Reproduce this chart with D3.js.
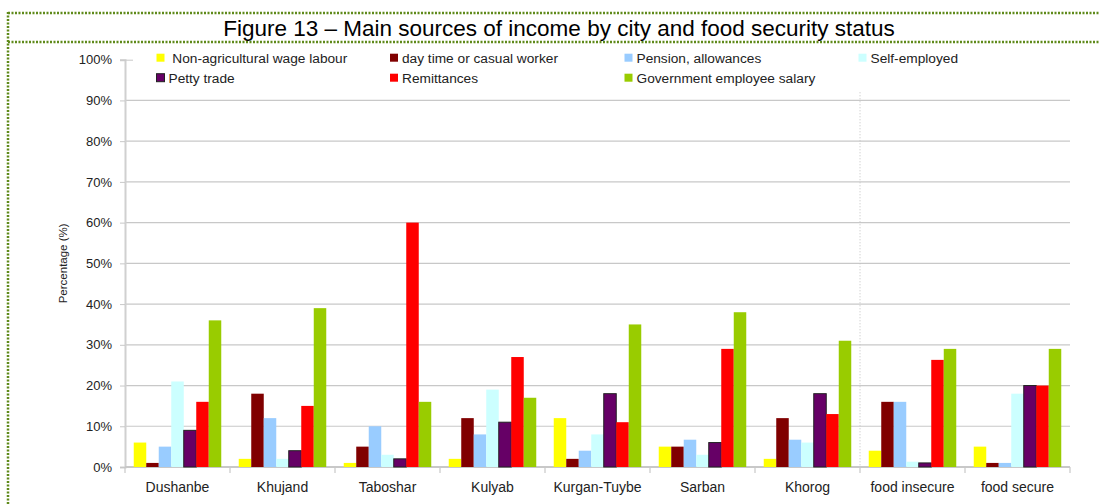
<!DOCTYPE html>
<html>
<head>
<meta charset="utf-8">
<script src="https://cdn.jsdelivr.net/npm/d3@7"></script>
<style>
  html, body { margin: 0; padding: 0; background: #fff; }
  svg { display: block; font-family: Arial, "Liberation Sans", sans-serif; }
  text { white-space: pre; }
</style>
</head>
<body>
<svg id="chart" width="1099" height="504"></svg>
<script>
// Groups along the x axis (cities, then food security status)
const categories = ["Dushanbe", "Khujand", "Taboshar", "Kulyab", "Kurgan-Tuybe", "Sarban", "Khorog", "food insecure", "food secure"];

// Income sources, in drawing order within each group
const seriesNames = [
  " Non-agricultural wage labour",
  "day time or casual worker",
  "Pension, allowances",
  "Self-employed",
  "Petty trade",
  "Remittances",
  "Government employee salary"
];
const seriesColors = ["#ffff00", "#800000", "#99ccff", "#ccffff", "#660066", "#ff0000", "#99cc00"];

// Percent of households per source, one value per category
const nonAgriculturalWage = [6, 2, 1, 2, 12, 5, 2, 4, 5];
const casualWorker        = [1, 18, 5, 12, 2, 5, 12, 16, 1];
const pensionAllowances   = [5, 12, 10, 8, 4, 6.7, 6.7, 16, 1];
const selfEmployed        = [21, 2, 3, 19, 8, 3, 6, 1.3, 18];
const pettyTrade          = [9, 4, 2, 11, 18, 6, 18, 1, 20];
const remittances         = [16, 15, 60, 27, 11, 29, 13, 26.3, 20];
const governmentSalary    = [36, 39, 16, 17, 35, 38, 31, 29, 29];

const yTicks = [0, 10, 20, 30, 40, 50, 60, 70, 80, 90, 100];

const seriesValues = [nonAgriculturalWage, casualWorker, pensionAllowances, selfEmployed, pettyTrade, remittances, governmentSalary];

const svg = d3.select("#chart");

// Frame: dotted olive rules around the title and down the left side
const frame = svg.append("g").attr("stroke", "#5f8a1a").attr("stroke-width", 2.5).attr("stroke-dasharray", "2,1.5");
frame.append("line").attr("x1", 8).attr("x2", 1099).attr("y1", 13).attr("y2", 13);
frame.append("line").attr("x1", 8).attr("x2", 1099).attr("y1", 42).attr("y2", 42);
frame.append("line").attr("x1", 8).attr("x2", 8).attr("y1", 12).attr("y2", 504);

svg.append("text")
  .attr("x", 559).attr("y", 35.5)
  .attr("text-anchor", "middle")
  .attr("font-size", 22.5)
  .attr("fill", "#000")
  .text("Figure 13 \u2013 Main sources of income by city and food security status");

// Scales
const x0 = d3.scaleBand().domain(categories).range([125, 1070]).paddingInner(0).paddingOuter(0);
const x1 = d3.scaleBand().domain(d3.range(seriesNames.length))
  .range([x0.bandwidth() * 0.0833, x0.bandwidth() * 0.9167]).padding(0);
const y = d3.scaleLinear().domain([0, 100]).range([467, 59.7]);

// Horizontal gridlines
svg.append("g")
  .selectAll("line")
  .data(yTicks.filter(t => t > 0 && t < 100))
  .join("line")
  .attr("x1", 125).attr("x2", 1070)
  .attr("y1", d => y(d)).attr("y2", d => y(d))
  .attr("stroke", "#c8c8c8").attr("stroke-width", 1.2);

// Dotted separator between cities and food security groups
svg.append("line")
  .attr("x1", x0("food insecure")).attr("x2", x0("food insecure"))
  .attr("y1", y(92)).attr("y2", y(0))
  .attr("stroke", "#c0c0c0").attr("stroke-width", 1).attr("stroke-dasharray", "1,2");

// Y axis
const yAxis = d3.axisLeft(y).tickValues(yTicks).tickFormat(d => d + "%").tickSize(5).tickPadding(8);
const yG = svg.append("g").attr("transform", "translate(125,0)").call(yAxis);
yG.select(".domain").attr("stroke", "#d0d0d0").attr("stroke-width", 2);
yG.selectAll(".tick line").attr("stroke", "#c8c8c8").attr("x2", -5).attr("x1", 0);
yG.selectAll(".tick").filter(d => d === 100).select("line").attr("x1", 8);
yG.selectAll(".tick text").attr("font-size", 13).attr("fill", "#222").attr("font-family", "Arial, 'Liberation Sans', sans-serif");

svg.append("text")
  .attr("transform", `translate(67,${(y(0) + y(100)) / 2}) rotate(-90)`)
  .attr("text-anchor", "middle")
  .attr("font-size", 11.5)
  .attr("fill", "#222")
  .text("Percentage (%)");

// X axis with ticks at group boundaries
const xAxisG = svg.append("g").attr("transform", `translate(0,${y(0)})`);
xAxisG.append("line").attr("x1", 125).attr("x2", 1070).attr("y1", 0).attr("y2", 0)
  .attr("stroke", "#c8c8c8").attr("stroke-width", 2);
const boundaries = categories.map(c => x0(c)).concat([x0(categories[categories.length - 1]) + x0.bandwidth()]);
xAxisG.selectAll("line.b").data(boundaries).join("line").attr("class", "b")
  .attr("x1", d => d).attr("x2", d => d).attr("y1", 0).attr("y2", 6)
  .attr("stroke", "#c8c8c8").attr("stroke-width", 1.2);
xAxisG.selectAll("text").data(categories).join("text")
  .attr("x", d => x0(d) + x0.bandwidth() / 2)
  .attr("y", 25)
  .attr("text-anchor", "middle")
  .attr("font-size", 14)
  .attr("fill", "#222")
  .text(d => d);

// Bars
const groups = svg.append("g").selectAll("g")
  .data(categories)
  .join("g")
  .attr("transform", d => `translate(${x0(d)},0)`);

groups.selectAll("rect")
  .data((c, ci) => seriesValues.map((vals, si) => ({ si, v: vals[ci] })))
  .join("rect")
  .attr("x", d => x1(d.si))
  .attr("width", x1.bandwidth())
  .attr("y", d => y(d.v))
  .attr("height", d => y(0) - y(d.v))
  .attr("fill", d => seriesColors[d.si])
  .attr("stroke", d => d.si === 4 ? "#222" : "none")
  .attr("stroke-width", 1);

// Legend
const legendCols = [156.5, 390, 624.5, 858.5];
const legendRows = [57.7, 77.7];
const legendSlots = [[0, 0], [1, 0], [2, 0], [3, 0], [0, 1], [1, 1], [2, 1]];
const legend = svg.append("g").selectAll("g")
  .data(seriesNames)
  .join("g")
  .attr("transform", (d, i) => `translate(${legendCols[legendSlots[i][0]]},${legendRows[legendSlots[i][1]]})`);
legend.append("rect")
  .attr("x", 0).attr("y", -4)
  .attr("width", 8).attr("height", 8)
  .attr("fill", (d, i) => seriesColors[i])
  .attr("stroke", (d, i) => i === 4 ? "#222" : "none");
legend.append("text")
  .attr("x", 12).attr("y", 4.8)
  .attr("font-size", 13.7)
  .attr("fill", "#222")
  .text(d => d);
</script>
</body>
</html>
